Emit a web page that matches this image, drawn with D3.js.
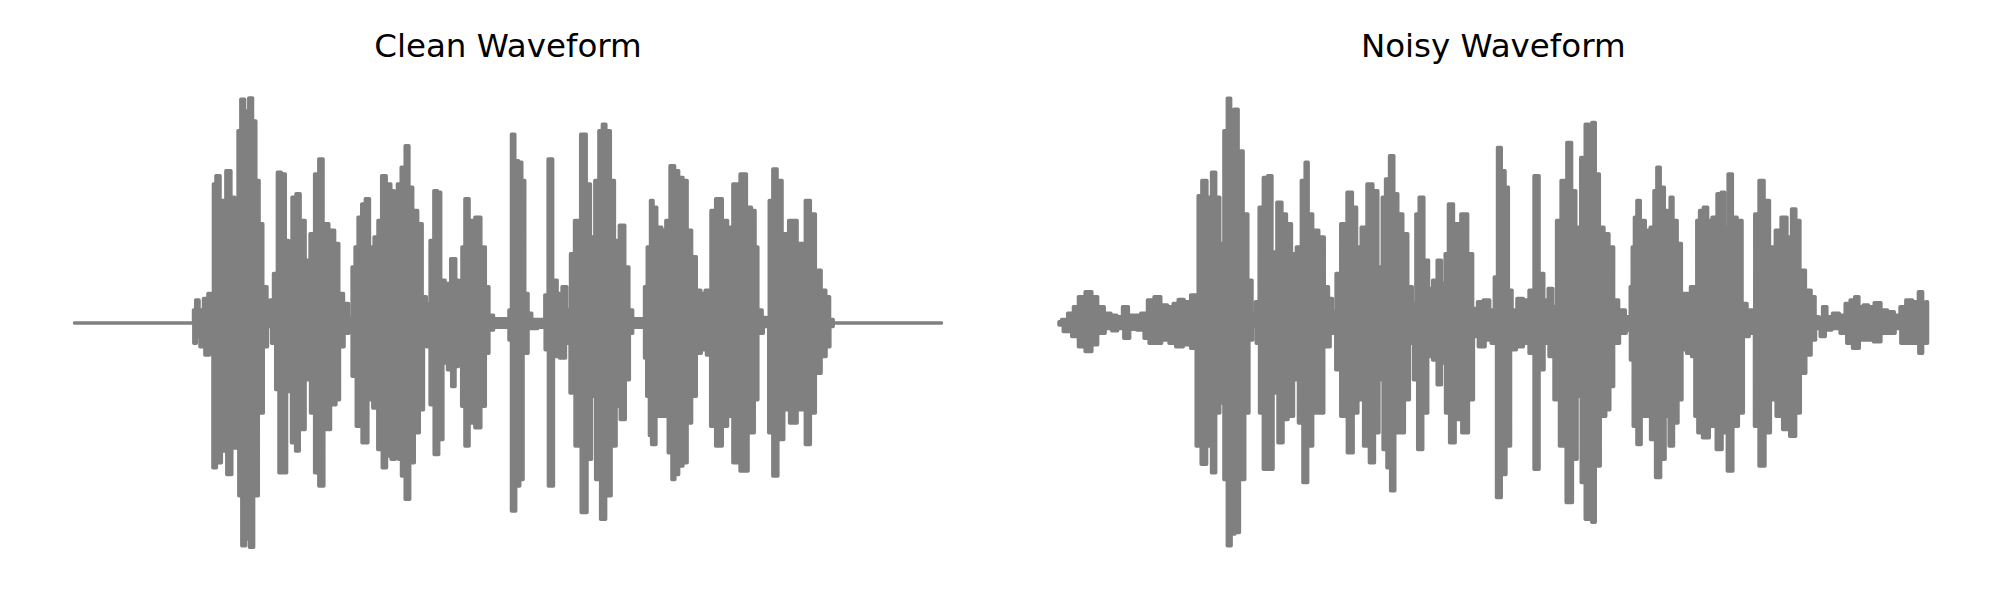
<!DOCTYPE html>
<html>
<head>
<meta charset="utf-8">
<script src="https://cdn.jsdelivr.net/npm/d3@7"></script>
<style>
  html, body { margin: 0; padding: 0; background: #ffffff; }
  svg { display: block; }
</style>
</head>
<body>
<svg id="chart" width="2000" height="600"></svg>
<script>
// ---- Data: waveform envelopes, [time (s), amplitude] ----
const panelTitles = ["Clean Waveform", "Noisy Waveform"];
const duration = 4.352;

const cleanUpper = [[0,0],[0.593,0],[0.602,0.058],[0.615,0.102],[0.635,0.058],[0.660,0.109],[0.680,0.131],[0.693,0.117],[0.702,0.618],[0.718,0.655],[0.743,0.544],[0.777,0.677],[0.793,0.559],[0.815,0.279],[0.827,0.854],[0.843,0.994],[0.865,0.942],[0.885,1.0],[0.902,0.898],[0.918,0.633],[0.935,0.441],[0.955,0.161],[0.977,0.013],[0.988,0.102],[1.010,0.220],[1.027,0.670],[1.048,0.662],[1.068,0.367],[1.082,0.308],[1.102,0.559],[1.122,0.574],[1.143,0.456],[1.172,0.279],[1.193,0.397],[1.218,0.662],[1.235,0.729],[1.260,0.441],[1.293,0.412],[1.318,0.353],[1.335,0.131],[1.365,0.087],[1.385,0.021],[1.402,0.249],[1.415,0.338],[1.432,0.470],[1.452,0.529],[1.468,0.552],[1.493,0.338],[1.515,0.382],[1.532,0.456],[1.552,0.655],[1.577,0.618],[1.598,0.588],[1.610,0.249],[1.632,0.618],[1.648,0.692],[1.672,0.788],[1.685,0.603],[1.710,0.500],[1.735,0.441],[1.755,0.117],[1.777,0.087],[1.793,0.367],[1.815,0.588],[1.828,0.581],[1.848,0.190],[1.872,0.176],[1.905,0.286],[1.922,0.190],[1.938,0.117],[1.952,0.338],[1.968,0.552],[1.993,0.456],[2.027,0.470],[2.052,0.338],[2.072,0.161],[2.088,0.035],[2.118,0.019],[2.177,0.019],[2.185,0.058],[2.202,0.839],[2.218,0.721],[2.238,0.714],[2.252,0.633],[2.268,0.131],[2.285,0.043],[2.305,0.016],[2.357,0.016],[2.365,0.124],[2.390,0.729],[2.410,0.190],[2.435,0.131],[2.460,0.161],[2.482,0.058],[2.498,0.308],[2.522,0.456],[2.560,0.839],[2.577,0.618],[2.602,0.382],[2.622,0.633],[2.643,0.854],[2.657,0.883],[2.677,0.854],[2.702,0.633],[2.718,0.367],[2.752,0.434],[2.772,0.249],[2.793,0.058],[2.810,0.019],[2.858,0.019],[2.865,0.161],[2.885,0.338],[2.898,0.544],[2.910,0.515],[2.935,0.426],[2.960,0.412],[2.977,0.456],[3.002,0.699],[3.022,0.677],[3.043,0.647],[3.065,0.633],[3.085,0.412],[3.110,0.294],[3.132,0.146],[3.155,0.131],[3.177,0.146],[3.188,0.072],[3.202,0.500],[3.235,0.552],[3.268,0.456],[3.288,0.426],[3.322,0.618],[3.360,0.662],[3.385,0.515],[3.410,0.500],[3.422,0.338],[3.438,0.058],[3.465,0.025],[3.482,0.013],[3.493,0.544],[3.518,0.684],[3.535,0.633],[3.568,0.397],[3.602,0.456],[3.652,0.353],[3.685,0.544],[3.702,0.485],[3.735,0.235],[3.760,0.146],[3.782,0.117],[3.798,0.016],[3.818,0],[4.352,0]];

const cleanLower = [[0,0],[0.593,0],[0.605,-0.090],[0.618,-0.060],[0.642,-0.105],[0.667,-0.142],[0.688,-0.119],[0.702,-0.643],[0.722,-0.621],[0.752,-0.569],[0.777,-0.673],[0.802,-0.555],[0.818,-0.252],[0.832,-0.768],[0.848,-0.990],[0.868,-0.960],[0.888,-0.997],[0.910,-0.768],[0.935,-0.400],[0.960,-0.105],[0.977,-0.016],[1.002,-0.090],[1.018,-0.296],[1.035,-0.665],[1.052,-0.665],[1.077,-0.304],[1.102,-0.532],[1.118,-0.569],[1.138,-0.473],[1.177,-0.252],[1.193,-0.400],[1.218,-0.665],[1.235,-0.724],[1.268,-0.473],[1.302,-0.363],[1.322,-0.341],[1.338,-0.105],[1.368,-0.046],[1.385,-0.016],[1.402,-0.237],[1.427,-0.459],[1.460,-0.532],[1.485,-0.341],[1.510,-0.378],[1.535,-0.562],[1.555,-0.643],[1.577,-0.591],[1.602,-0.606],[1.618,-0.223],[1.635,-0.606],[1.648,-0.680],[1.672,-0.783],[1.693,-0.621],[1.718,-0.488],[1.743,-0.385],[1.760,-0.075],[1.777,-0.105],[1.793,-0.363],[1.818,-0.584],[1.838,-0.518],[1.860,-0.178],[1.885,-0.208],[1.902,-0.282],[1.918,-0.193],[1.935,-0.090],[1.952,-0.370],[1.968,-0.547],[1.993,-0.444],[2.027,-0.466],[2.052,-0.370],[2.072,-0.134],[2.088,-0.031],[2.118,-0.019],[2.177,-0.019],[2.185,-0.075],[2.202,-0.835],[2.227,-0.724],[2.243,-0.695],[2.260,-0.134],[2.293,-0.024],[2.357,-0.019],[2.368,-0.119],[2.390,-0.724],[2.418,-0.149],[2.452,-0.156],[2.477,-0.090],[2.498,-0.311],[2.527,-0.547],[2.560,-0.842],[2.585,-0.606],[2.605,-0.326],[2.627,-0.695],[2.655,-0.872],[2.677,-0.768],[2.710,-0.547],[2.727,-0.370],[2.752,-0.429],[2.777,-0.252],[2.793,-0.046],[2.810,-0.019],[2.858,-0.019],[2.865,-0.156],[2.880,-0.326],[2.892,-0.500],[2.902,-0.540],[2.935,-0.414],[2.968,-0.414],[2.993,-0.577],[3.005,-0.695],[3.022,-0.673],[3.043,-0.636],[3.065,-0.621],[3.085,-0.444],[3.110,-0.326],[3.132,-0.134],[3.160,-0.119],[3.185,-0.142],[3.202,-0.459],[3.235,-0.547],[3.268,-0.459],[3.288,-0.414],[3.322,-0.621],[3.360,-0.658],[3.402,-0.488],[3.422,-0.341],[3.438,-0.046],[3.477,-0.016],[3.493,-0.488],[3.518,-0.680],[3.543,-0.518],[3.577,-0.385],[3.602,-0.444],[3.652,-0.385],[3.685,-0.540],[3.702,-0.400],[3.735,-0.223],[3.760,-0.149],[3.785,-0.105],[3.798,-0.016],[3.818,0],[4.352,0]];

const noisyUpper = [[0,0.006],[0.027,0.016],[0.060,0.043],[0.085,0.072],[0.110,0.117],[0.152,0.139],[0.177,0.117],[0.210,0.072],[0.243,0.043],[0.277,0.035],[0.302,0.028],[0.335,0.072],[0.360,0.035],[0.393,0.035],[0.427,0.043],[0.460,0.102],[0.493,0.117],[0.527,0.080],[0.560,0.072],[0.585,0.087],[0.610,0.105],[0.643,0.094],[0.677,0.124],[0.693,0.117],[0.702,0.566],[0.730,0.633],[0.752,0.559],[0.777,0.670],[0.793,0.559],[0.818,0.353],[0.835,0.854],[0.852,0.999],[0.868,0.942],[0.885,0.950],[0.910,0.765],[0.935,0.485],[0.957,0.190],[0.977,0.043],[0.993,0.094],[1.013,0.515],[1.035,0.647],[1.057,0.655],[1.077,0.316],[1.107,0.537],[1.127,0.485],[1.152,0.441],[1.177,0.308],[1.202,0.338],[1.227,0.633],[1.240,0.714],[1.257,0.485],[1.285,0.412],[1.318,0.382],[1.340,0.161],[1.360,0.109],[1.380,0.050],[1.397,0.220],[1.427,0.441],[1.460,0.581],[1.480,0.515],[1.502,0.338],[1.527,0.426],[1.560,0.618],[1.585,0.588],[1.610,0.249],[1.630,0.559],[1.643,0.640],[1.670,0.743],[1.685,0.574],[1.710,0.485],[1.735,0.397],[1.760,0.161],[1.780,0.087],[1.797,0.485],[1.813,0.559],[1.843,0.279],[1.860,0.153],[1.885,0.190],[1.905,0.279],[1.927,0.176],[1.943,0.308],[1.960,0.529],[1.993,0.441],[2.035,0.485],[2.060,0.308],[2.085,0.065],[2.110,0.094],[2.143,0.102],[2.173,0.058],[2.190,0.205],[2.205,0.780],[2.227,0.677],[2.243,0.603],[2.260,0.146],[2.280,0.058],[2.310,0.109],[2.343,0.102],[2.368,0.146],[2.393,0.655],[2.418,0.220],[2.440,0.102],[2.463,0.153],[2.485,0.072],[2.502,0.456],[2.530,0.633],[2.560,0.802],[2.577,0.588],[2.602,0.426],[2.627,0.736],[2.647,0.883],[2.663,0.780],[2.677,0.891],[2.697,0.662],[2.718,0.426],[2.743,0.397],[2.768,0.338],[2.790,0.102],[2.818,0.058],[2.857,0.028],[2.868,0.161],[2.877,0.338],[2.890,0.470],[2.902,0.544],[2.923,0.456],[2.952,0.412],[2.973,0.426],[2.990,0.588],[3.002,0.692],[3.023,0.603],[3.043,0.500],[3.057,0.190],[3.068,0.559],[3.085,0.456],[3.110,0.353],[3.127,0.131],[3.152,0.131],[3.177,0.161],[3.190,0.087],[3.202,0.456],[3.218,0.500],[3.240,0.515],[3.260,0.456],[3.285,0.470],[3.310,0.574],[3.327,0.581],[3.343,0.426],[3.363,0.662],[3.385,0.470],[3.410,0.456],[3.435,0.087],[3.460,0.058],[3.480,0.058],[3.493,0.485],[3.523,0.633],[3.543,0.544],[3.577,0.338],[3.602,0.412],[3.635,0.470],[3.660,0.382],[3.682,0.507],[3.702,0.456],[3.723,0.235],[3.757,0.146],[3.780,0.117],[3.797,0.028],[3.818,0.025],[3.835,0.072],[3.860,0.028],[3.893,0.043],[3.927,0.035],[3.952,0.087],[3.977,0.102],[3.998,0.117],[4.018,0.072],[4.043,0.080],[4.068,0.072],[4.102,0.090],[4.135,0.058],[4.168,0.050],[4.202,0.035],[4.227,0.072],[4.260,0.102],[4.293,0.094],[4.320,0.139],[4.335,0.087],[4.352,0.094]];

const noisyLower = [[0,-0.009],[0.043,-0.038],[0.085,-0.060],[0.110,-0.105],[0.152,-0.127],[0.177,-0.097],[0.210,-0.046],[0.252,-0.024],[0.277,-0.034],[0.310,-0.024],[0.340,-0.068],[0.368,-0.028],[0.410,-0.031],[0.443,-0.068],[0.460,-0.090],[0.493,-0.090],[0.535,-0.075],[0.568,-0.090],[0.602,-0.105],[0.643,-0.097],[0.677,-0.112],[0.698,-0.547],[0.727,-0.628],[0.752,-0.547],[0.777,-0.665],[0.793,-0.400],[0.818,-0.355],[0.835,-0.695],[0.852,-0.990],[0.873,-0.938],[0.890,-0.931],[0.918,-0.695],[0.943,-0.400],[0.960,-0.075],[0.980,-0.016],[0.997,-0.090],[1.013,-0.400],[1.035,-0.650],[1.060,-0.650],[1.085,-0.311],[1.110,-0.532],[1.135,-0.429],[1.160,-0.414],[1.190,-0.252],[1.210,-0.444],[1.235,-0.709],[1.257,-0.547],[1.285,-0.400],[1.313,-0.400],[1.340,-0.105],[1.377,-0.046],[1.397,-0.208],[1.427,-0.414],[1.463,-0.577],[1.485,-0.400],[1.510,-0.341],[1.543,-0.547],[1.568,-0.621],[1.593,-0.488],[1.613,-0.252],[1.635,-0.562],[1.652,-0.643],[1.672,-0.746],[1.693,-0.488],[1.718,-0.488],[1.743,-0.341],[1.768,-0.090],[1.785,-0.252],[1.810,-0.562],[1.835,-0.400],[1.860,-0.149],[1.885,-0.164],[1.905,-0.274],[1.927,-0.178],[1.947,-0.400],[1.968,-0.532],[2.002,-0.429],[2.035,-0.488],[2.068,-0.341],[2.085,-0.060],[2.118,-0.105],[2.152,-0.075],[2.180,-0.090],[2.205,-0.776],[2.227,-0.673],[2.252,-0.547],[2.273,-0.119],[2.310,-0.105],[2.343,-0.090],[2.368,-0.134],[2.393,-0.650],[2.418,-0.208],[2.443,-0.090],[2.468,-0.149],[2.493,-0.341],[2.523,-0.547],[2.560,-0.798],[2.585,-0.606],[2.607,-0.326],[2.627,-0.709],[2.647,-0.872],[2.663,-0.739],[2.677,-0.886],[2.697,-0.636],[2.727,-0.414],[2.752,-0.385],[2.768,-0.282],[2.790,-0.090],[2.827,-0.046],[2.857,-0.031],[2.870,-0.164],[2.885,-0.459],[2.907,-0.540],[2.927,-0.414],[2.952,-0.414],[2.977,-0.518],[3.002,-0.687],[3.027,-0.606],[3.047,-0.414],[3.068,-0.547],[3.090,-0.444],[3.113,-0.341],[3.130,-0.119],[3.160,-0.134],[3.180,-0.149],[3.193,-0.414],[3.210,-0.488],[3.240,-0.510],[3.277,-0.459],[3.310,-0.562],[3.335,-0.488],[3.363,-0.658],[3.390,-0.459],[3.418,-0.400],[3.440,-0.060],[3.477,-0.046],[3.493,-0.459],[3.523,-0.636],[3.552,-0.488],[3.577,-0.341],[3.610,-0.414],[3.643,-0.473],[3.680,-0.503],[3.702,-0.400],[3.727,-0.223],[3.757,-0.142],[3.780,-0.075],[3.802,-0.024],[3.827,-0.060],[3.852,-0.031],[3.893,-0.024],[3.935,-0.046],[3.960,-0.090],[3.993,-0.112],[4.027,-0.075],[4.060,-0.075],[4.102,-0.083],[4.135,-0.046],[4.177,-0.046],[4.202,-0.024],[4.235,-0.090],[4.268,-0.090],[4.297,-0.090],[4.320,-0.134],[4.335,-0.090],[4.352,-0.090]];

// ---- Rendering ----
const svg = d3.select("#chart");
const color = "#808080";

const panels = [
  { title: panelTitles[0], upper: cleanUpper, lower: cleanLower, x0: 74.5, x1: 941.5 },
  { title: panelTitles[1], upper: noisyUpper, lower: noisyLower, x0: 1059, x1: 1927.5 }
];

const y = d3.scaleLinear().domain([-1, 1]).range([548, 98]);

panels.forEach(p => {
  const x = d3.scaleLinear().domain([0, duration]).range([p.x0, p.x1]);
  const g = svg.append("g");
  const upperPath = d3.line().curve(d3.curveStep)
    .x(d => x(d[0])).y(d => y(d[1]))(p.upper);
  const lowerPath = d3.line().curve(d3.curveStep)
    .x(d => x(d[0])).y(d => y(d[1]))(p.lower.slice().reverse());
  g.append("path")
    .attr("d", upperPath + "L" + lowerPath.slice(1) + "Z")
    .attr("fill", color)
    .attr("stroke", color)
    .attr("stroke-width", 3.5)
    .attr("stroke-linejoin", "round")
    .attr("stroke-linecap", "round");

  svg.append("text")
    .attr("x", (p.x0 + p.x1) / 2)
    .attr("y", 57)
    .attr("text-anchor", "middle")
    .attr("font-family", "DejaVu Sans")
    .attr("font-size", 32.5)
    .attr("fill", "#000")
    .text(p.title);
});
</script>
</body>
</html>
